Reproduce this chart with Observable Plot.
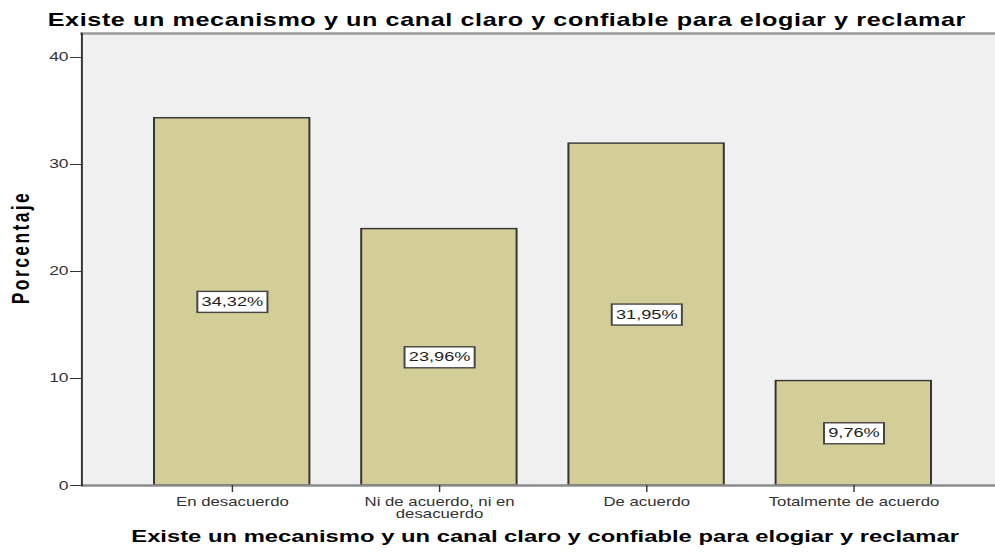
<!DOCTYPE html>
<html>
<head>
<meta charset="utf-8">
<script src="https://cdn.jsdelivr.net/npm/d3@7"></script>
<script src="https://cdn.jsdelivr.net/npm/@observablehq/plot@0.6"></script>
<style>
  html, body { margin: 0; padding: 0; background: #ffffff; overflow: hidden; }
  #chart { width: 995px; height: 552px; }
</style>
</head>
<body>
<div id="chart"></div>
<script>
// ---- data ----
const categories = ["En desacuerdo", "Ni de acuerdo, ni en desacuerdo", "De acuerdo", "Totalmente de acuerdo"];
const tickLabels = ["En desacuerdo", "Ni de acuerdo, ni en\ndesacuerdo", "De acuerdo", "Totalmente de acuerdo"];
const percentages = [34.32, 23.96, 31.95, 9.76];
const valueLabels = ["34,32%", "23,96%", "31,95%", "9,76%"];
const yTicks = [0, 10, 20, 30, 40];
const chartTitle = "Existe un mecanismo y un canal claro y confiable para elogiar y reclamar";
const xTitle = "Existe un mecanismo y un canal claro y confiable para elogiar y reclamar";
const yTitle = "Porcentaje";

const data = categories.map((c, i) => ({category: c, value: percentages[i], label: valueLabels[i]}));

// ---- layout ----
const STRETCH = 1.4;           // the reference is horizontally stretched
const OUT_W = 995, OUT_H = 552;
const W = OUT_W / STRETCH;
const FONT = "'Liberation Sans', Arial, sans-serif";
const LABEL_FONT_SIZE = 13;

function labelBoxes(index, scales, values, dimensions, context, next) {
  const g = next(index, scales, values, dimensions, context);
  const ctx = document.createElement("canvas").getContext("2d");
  ctx.font = `${LABEL_FONT_SIZE}px 'Liberation Sans'`;
  const ns = "http://www.w3.org/2000/svg";
  g.querySelectorAll("text").forEach((t) => {
    const m = /translate\(([-\d.e]+),\s*([-\d.e]+)\)/.exec(t.getAttribute("transform") || "");
    if (!m) return;
    const cx = +m[1], cy = +m[2];
    const w = ctx.measureText(t.textContent).width + 6;
    const h = 21;
    const r = document.createElementNS(ns, "rect");
    r.setAttribute("x", cx - w / 2);
    r.setAttribute("y", cy - h / 2);
    r.setAttribute("width", w);
    r.setAttribute("height", h);
    r.setAttribute("fill", "#ffffff");
    r.setAttribute("stroke", "#444444");
    r.setAttribute("stroke-width", 1.4);
    t.parentNode.insertBefore(r, t);
  });
  return g;
}

function spacing(px) {
  return function (index, scales, values, dimensions, context, next) {
    const g = next(index, scales, values, dimensions, context);
    g.querySelectorAll("text").forEach((t) => t.setAttribute("letter-spacing", px));
    return g;
  };
}

const plot = Plot.plot({
  width: W,
  height: OUT_H,
  marginTop: 33,
  marginBottom: 67,
  marginLeft: 58,
  marginRight: 0,
  style: {fontFamily: FONT, background: "transparent", overflow: "visible"},
  x: {domain: categories, paddingInner: 0.25, paddingOuter: 0.322, align: 0.53, label: null},
  y: {domain: [0, 42.24], label: null},
  marks: [
    Plot.frame({fill: "#f0f0f0", stroke: null}),
    Plot.frame({anchor: "top", stroke: "#9c9c9c", strokeWidth: 2.5}),
    Plot.barY(data, {x: "category", y: "value", fill: "#d3ce97", stroke: "#333333", strokeWidth: 1.4}),
    Plot.ruleY([0], {stroke: "#8c8c8c", strokeWidth: 2.5}),
    Plot.frame({anchor: "left", stroke: "#333333", strokeWidth: 1.4}),
    Plot.axisY({ticks: yTicks, tickSize: 8, tickPadding: 1.5, fontSize: 12.5, color: "#333333", label: null}),
    Plot.axisX({
      tickSize: 7, tickPadding: 5, fontSize: 12, color: "#333333", label: null,
      lineHeight: 1.0,
      tickFormat: (d) => tickLabels[categories.indexOf(d)]
    }),
    Plot.text(data, {
      x: "category", y: (d) => d.value / 2, text: "label",
      fontSize: LABEL_FONT_SIZE, fill: "#222222", render: labelBoxes
    }),
    Plot.text([chartTitle], {
      frameAnchor: "top-left", textAnchor: "start", dx: -24.4, dy: -20,
      fontSize: 18, fontWeight: "bold", fill: "#000000", render: spacing(0.42)
    }),
    Plot.text([xTitle], {
      frameAnchor: "bottom", dx: 4.5, dy: 56,
      fontSize: 17, fontWeight: "bold", fill: "#000000"
    }),
    Plot.text([yTitle], {
      frameAnchor: "left", textAnchor: "middle", rotate: -90, dx: -43.7, dy: -12,
      fontSize: 17.5, fontWeight: "bold", fill: "#000000", render: spacing(2.4)
    })
  ]
});

document.getElementById("chart").appendChild(plot);

// stretch horizontally like the reference
plot.setAttribute("viewBox", `0 0 ${W} ${OUT_H}`);
plot.setAttribute("preserveAspectRatio", "none");
plot.setAttribute("width", OUT_W);
plot.setAttribute("height", OUT_H);
plot.style.width = OUT_W + "px";
plot.style.height = OUT_H + "px";
plot.style.maxWidth = "none";
</script>
</body>
</html>
